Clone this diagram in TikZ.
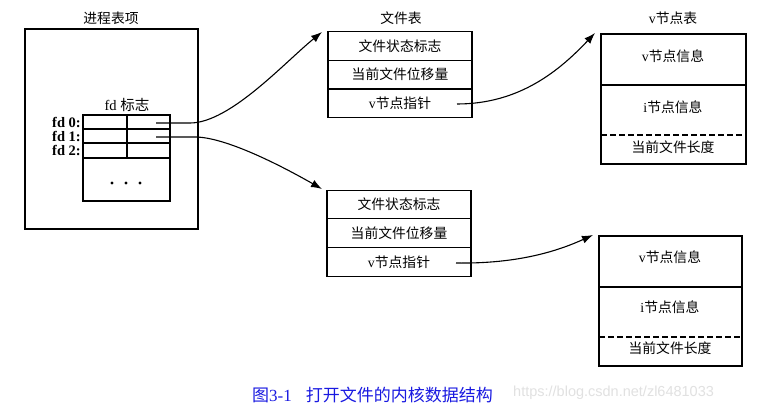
\documentclass[tikz,border=0pt]{standalone}
\usepackage{fontspec}
\setmainfont{Liberation Serif}
\newfontfamily\cjk{Noto Sans CJK SC}
\newfontfamily\wmfont{Liberation Sans}
\usetikzlibrary{arrows.meta}
\newcommand\zh[1]{{\cjk #1}}
\definecolor{capblue}{RGB}{25,25,225}
\definecolor{wmgrey}{RGB}{225,225,225}
\begin{document}
\begin{tikzpicture}[x=1pt,y=-1pt,
  every node/.style={font=\fontsize{13.8}{16}\selectfont, inner sep=0pt},
  box/.style={draw, line width=1.1pt},
  frow/.style={box, minimum width=144pt, minimum height=28.7pt},
  txt/.style={anchor=center},
  fdlab/.style={anchor=east, font=\bfseries\fontsize{14.5}{16}\selectfont},
  ptr/.style={line width=1.1pt, -{Latex[length=11pt,width=8pt]}},
  line/.style={line width=1.1pt}]
\useasboundingbox (0,0) rectangle (771,409);
\fill[white] (0,0) rectangle (771,409);

% process table entry
\node[txt] (ptitle) at (111,18) {\zh{进程表项}};
\node[box, minimum width=173pt, minimum height=200pt] (proc) at (111.5,129) {};
\node[txt, font=\fontsize{14.5}{16}\selectfont] (fdtitle) at (127,105) {fd \zh{标志}};
\node[box, minimum width=87pt, minimum height=86pt] (fdtab) at (126.5,158) {};
\draw[line] (83,129) -- (170,129);
\draw[line] (83,143) -- (170,143);
\draw[line] (83,158) -- (170,158);
\draw[line] (127,115) -- (127,158);
\node[fdlab] (fd0) at (81,122) {fd 0:};
\node[fdlab] (fd1) at (81,136) {fd 1:};
\node[fdlab] (fd2) at (81,150) {fd 2:};
\fill (112,183) circle (1.7pt) (126,183) circle (1.7pt) (140,183) circle (1.7pt);
\coordinate (p0) at (156,123);
\coordinate (p1) at (156,137);

% file table 1
\node[txt] (ftitle) at (401,18) {\zh{文件表}};
\node[frow] (f1a) at (400,46) {\zh{文件状态标志}};
\node[frow] (f1b) at (400,74.7) {\zh{当前文件位移量}};
\node[frow] (f1c) at (400,103.4) {v\zh{节点指针}};
\coordinate (f1in) at (322,32);
\coordinate (q1) at (457,104);

% file table 2
\node[frow] (f2a) at (399,204.5) {\zh{文件状态标志}};
\node[frow] (f2b) at (399,233.2) {\zh{当前文件位移量}};
\node[frow] (f2c) at (399,261.9) {v\zh{节点指针}};
\coordinate (f2in) at (322,189);
\coordinate (q2) at (456,263);

% v-node table 1
\node[txt] (vtitle) at (673,18) {v\zh{节点表}};
\node[box, minimum width=145pt, minimum height=130pt] (v1) at (673.5,99) {};
\draw[line] (601,85) -- (746,85);
\draw[line, dashed, dash pattern=on 6pt off 3pt] (601,135) -- (746,135);
\node[txt] (v1a) at (673,56) {v\zh{节点信息}};
\node[txt] (v1b) at (673,107) {i\zh{节点信息}};
\node[txt] (v1c) at (673,147) {\zh{当前文件长度}};
\coordinate (v1in) at (595,33);

% v-node table 2
\node[box, minimum width=143pt, minimum height=130pt] (v2) at (670.5,301) {};
\draw[line] (599,287) -- (742,287);
\draw[line, dashed, dash pattern=on 6pt off 3pt] (599,337) -- (742,337);
\node[txt] (v2a) at (670,257) {v\zh{节点信息}};
\node[txt] (v2b) at (670,307) {i\zh{节点信息}};
\node[txt] (v2c) at (670,348) {\zh{当前文件长度}};
\coordinate (v2in) at (593,235);

% pointers
\draw[ptr] (p0) -- (190,123) .. controls (230,123) and (285,62) .. (f1in);
\draw[ptr] (p1) -- (195,137) .. controls (225,137) and (280,165) .. (f2in);
\draw[ptr] (q1) .. controls (520,104) and (560,70) .. (v1in);
\draw[ptr] (q2) .. controls (520,264) and (560,250) .. (v2in);

% caption
\node[anchor=west, text=capblue, font=\fontsize{17}{19}\selectfont] (cap) at (252,395) {\zh{图}3-1\hspace{14pt}\zh{打开文件的内核数据结构}};
\node[anchor=west, text=wmgrey, font=\wmfont\fontsize{14.5}{16}\selectfont] (wm) at (513,393) {https://blog.csdn.net/zl6481033};
\end{tikzpicture}
\end{document}
